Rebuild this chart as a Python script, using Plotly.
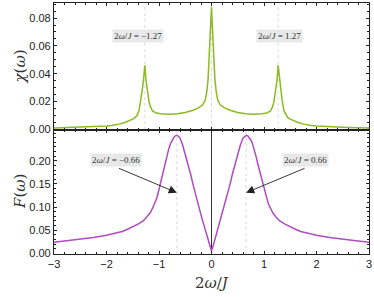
import plotly.graph_objects as go
from plotly.subplots import make_subplots

# ---- data ----
omega_chi = [-3.0, -2.8, -2.6, -2.4, -2.2, -2.0, -1.9, -1.8, -1.74, -1.65, -1.58, -1.5, -1.45,
             -1.42, -1.38, -1.345, -1.31, -1.29, -1.27, -1.25, -1.22, -1.19, -1.16, -1.12,
             -1.05, -0.97, -0.8, -0.65, -0.5, -0.35, -0.25, -0.17, -0.12, -0.09, -0.065,
             -0.045, -0.03, -0.015, 0.0,
             0.015, 0.03, 0.045, 0.065, 0.09, 0.12, 0.17, 0.25, 0.35, 0.5, 0.65, 0.8,
             0.97, 1.05, 1.12, 1.16, 1.19, 1.22, 1.25, 1.27, 1.29, 1.31, 1.345, 1.38,
             1.42, 1.45, 1.5, 1.58, 1.65, 1.74, 1.8, 1.9, 2.0, 2.2, 2.4, 2.6, 2.8, 3.0]
chi = [0.0010, 0.0012, 0.0014, 0.0016, 0.0020, 0.0025, 0.0029, 0.0035, 0.0040, 0.0050,
       0.0060, 0.0074, 0.0086, 0.0100, 0.0135, 0.0210, 0.0310, 0.0380, 0.0460, 0.0360,
       0.0270, 0.0200, 0.0160, 0.0132, 0.0118, 0.0112, 0.0110, 0.0113, 0.0122, 0.0138,
       0.0155, 0.0175, 0.0210, 0.0270, 0.0360, 0.0530, 0.0630, 0.0750, 0.0880,
       0.0750, 0.0630, 0.0530, 0.0360, 0.0270, 0.0210, 0.0175, 0.0155, 0.0138, 0.0122,
       0.0113, 0.0110, 0.0112, 0.0118, 0.0132, 0.0160, 0.0200, 0.0270, 0.0360, 0.0460,
       0.0380, 0.0310, 0.0210, 0.0135, 0.0100, 0.0086, 0.0074, 0.0060, 0.0050, 0.0040,
       0.0035, 0.0029, 0.0025, 0.0020, 0.0016, 0.0014, 0.0012, 0.0010]

omega_F = [-3.0, -2.75, -2.5, -2.25, -2.0, -1.85, -1.7, -1.6, -1.5, -1.4, -1.3, -1.23, -1.17,
           -1.12, -1.08, -1.04, -1.0, -0.96, -0.92, -0.88, -0.85, -0.82, -0.78, -0.75,
           -0.72, -0.69, -0.66, -0.63, -0.6, -0.55, -0.5, -0.46, -0.4, -0.35, -0.3, -0.25,
           -0.2, -0.15, -0.1, -0.05, 0.0,
           0.05, 0.1, 0.15, 0.2, 0.25, 0.3, 0.35, 0.4, 0.46, 0.5, 0.55, 0.6, 0.63, 0.66,
           0.69, 0.72, 0.75, 0.78, 0.82, 0.85, 0.88, 0.92, 0.96, 1.0, 1.04, 1.08, 1.12,
           1.17, 1.23, 1.3, 1.4, 1.5, 1.6, 1.7, 1.85, 2.0, 2.25, 2.5, 2.75, 3.0]
F = [0.024, 0.027, 0.030, 0.034, 0.039, 0.043, 0.047, 0.052, 0.057, 0.063, 0.070, 0.078,
     0.087, 0.098, 0.108, 0.120, 0.138, 0.158, 0.177, 0.194, 0.209, 0.223, 0.237, 0.245,
     0.250, 0.254, 0.255, 0.253, 0.249, 0.234, 0.215, 0.198, 0.172, 0.148, 0.125, 0.103,
     0.083, 0.063, 0.044, 0.024, 0.005,
     0.024, 0.044, 0.063, 0.083, 0.103, 0.125, 0.148, 0.172, 0.198, 0.215, 0.234, 0.249,
     0.253, 0.255, 0.254, 0.250, 0.245, 0.237, 0.223, 0.209, 0.194, 0.177, 0.158, 0.138,
     0.120, 0.108, 0.098, 0.087, 0.078, 0.070, 0.063, 0.057, 0.052, 0.047, 0.043, 0.039,
     0.034, 0.030, 0.027, 0.024]

chi_peaks = [-1.27, 1.27]
F_peaks = [-0.66, 0.66]
chi_labels = ["2<i>ω</i>/<i>J</i> = −1.27", "2<i>ω</i>/<i>J</i> = 1.27"]
F_labels = ["2<i>ω</i>/<i>J</i> = −0.66", "2<i>ω</i>/<i>J</i> = 0.66"]
x_ticks = [-3, -2, -1, 0, 1, 2, 3]
chi_ticks = [0.0, 0.02, 0.04, 0.06, 0.08]
F_ticks = [0.0, 0.05, 0.10, 0.15, 0.20]

GREEN = "#8cba21"
PURPLE = "#ad4cbf"
FRAME = "#222222"
GUIDE = "#d9d9d9"
TICKFONT = dict(family="Liberation Sans, Arial, sans-serif", size=11, color="#222")
SERIF = "DejaVu Serif, Liberation Serif, serif"
LSERIF = "Liberation Serif, DejaVu Serif, serif"

fig = make_subplots(rows=2, cols=1, shared_xaxes=False, vertical_spacing=0)

fig.add_trace(go.Scatter(x=omega_chi, y=chi, mode="lines",
                         line=dict(color=GREEN, width=1.5), showlegend=False), row=1, col=1)
fig.add_trace(go.Scatter(x=omega_F, y=F, mode="lines",
                         line=dict(color=PURPLE, width=1.5), showlegend=False), row=2, col=1)

# dashed guide lines
for xv in chi_peaks + [0]:
    fig.add_shape(type="line", xref="x", yref="y", x0=xv, x1=xv, y0=-0.0004, y1=0.0908,
                  line=dict(color=GUIDE, width=1, dash="3px,3px"), layer="below")
for xv in F_peaks:
    fig.add_shape(type="line", xref="x2", yref="y2", x0=xv, x1=xv, y0=-0.0015, y1=0.2665,
                  line=dict(color=GUIDE, width=1, dash="3px,3px"), layer="below")
fig.add_shape(type="line", xref="x2", yref="y2", x0=0, x1=0, y0=-0.0015, y1=0.2665,
              line=dict(color="#333333", width=1), layer="below")

common_x = dict(range=[-3, 3], tickvals=x_ticks, ticks="inside", ticklen=3,
                tickcolor=FRAME, showline=True, linecolor=FRAME, linewidth=1.2,
                mirror="ticks", showgrid=False, zeroline=False, automargin=False,
                minor=dict(dtick=0.2, tick0=0, ticks="inside", ticklen=2, tickcolor=FRAME),
                tickfont=TICKFONT)
fig.update_xaxes(**common_x, showticklabels=False, row=1, col=1)
fig.update_xaxes(**common_x, showticklabels=True, row=2, col=1)

fig.update_yaxes(range=[-0.0004, 0.0908], tickvals=chi_ticks, tickformat=".2f",
                 ticks="inside", ticklen=3, tickcolor=FRAME, showline=True,
                 linecolor=FRAME, linewidth=1.2, mirror="ticks", showgrid=False,
                 zeroline=False, tickfont=TICKFONT, automargin=False,
                 minor=dict(dtick=0.005, tick0=0, ticks="inside", ticklen=2, tickcolor=FRAME),
                 row=1, col=1)
fig.update_yaxes(range=[-0.0015, 0.2665], tickvals=F_ticks, tickformat=".2f",
                 ticks="inside", ticklen=3, tickcolor=FRAME, showline=True,
                 linecolor=FRAME, linewidth=1.2, mirror="ticks", showgrid=False,
                 zeroline=False, tickfont=TICKFONT, automargin=False,
                 minor=dict(dtick=0.01, tick0=0, ticks="inside", ticklen=2, tickcolor=FRAME),
                 row=2, col=1)

fig.update_layout(
    width=374, height=297,
    margin=dict(l=54, r=5, t=3, b=43),
    paper_bgcolor="white", plot_bgcolor="white",
    xaxis=dict(domain=[0, 1]), xaxis2=dict(domain=[0, 1]),
    yaxis=dict(domain=[0.494, 1]), yaxis2=dict(domain=[0, 0.494]),
)

label_font = dict(family=LSERIF, size=9, color="#333")
# top labels
for xv, txt in zip([-1.40, 1.30], chi_labels):
    fig.add_annotation(x=xv, y=0.067, xref="x", yref="y", text=txt, showarrow=False,
                       xanchor="center", yanchor="middle",
                       font=label_font, bgcolor="#e8e8e8", borderpad=1)
# bottom labels with arrows
for xl, xp, txt in zip([-1.81, 1.79], F_peaks, F_labels):
    fig.add_annotation(x=xl, y=0.2015, xref="x2", yref="y2", text=txt, showarrow=False,
                       xanchor="center", yanchor="middle",
                       font=label_font, bgcolor="#e8e8e8", borderpad=1)
    fig.add_annotation(x=xp, y=0.131, xref="x2", yref="y2", ax=xl + (0.02 if xl < 0 else 0.01),
                       ay=0.185, axref="x2", ayref="y2", text="", showarrow=True,
                       arrowhead=2, arrowsize=1.8, arrowwidth=0.9, arrowcolor="#222")

# axis titles
fig.add_annotation(xref="paper", yref="paper", x=0, y=0.747, xshift=-34, text="<i>χ</i>(<i>ω</i>)",
                   xanchor="center", yanchor="middle",
                   textangle=-90, showarrow=False, font=dict(family=SERIF, size=15, color="#333"))
fig.add_annotation(xref="paper", yref="paper", x=0, y=0.247, xshift=-34, text="<i>F</i>(<i>ω</i>)",
                   xanchor="center", yanchor="middle",
                   textangle=-90, showarrow=False, font=dict(family=SERIF, size=15, color="#333"))
fig.add_annotation(xref="paper", yref="paper", x=0.5, y=0, yshift=-29, text="2<i>ω</i>/<i>J</i>",
                   xanchor="center", yanchor="middle",
                   showarrow=False, font=dict(family=SERIF, size=15, color="#333"))

fig.write_html("out.html", config={"displayModeBar": False},
               post_script="document.body.style.margin='0';")
